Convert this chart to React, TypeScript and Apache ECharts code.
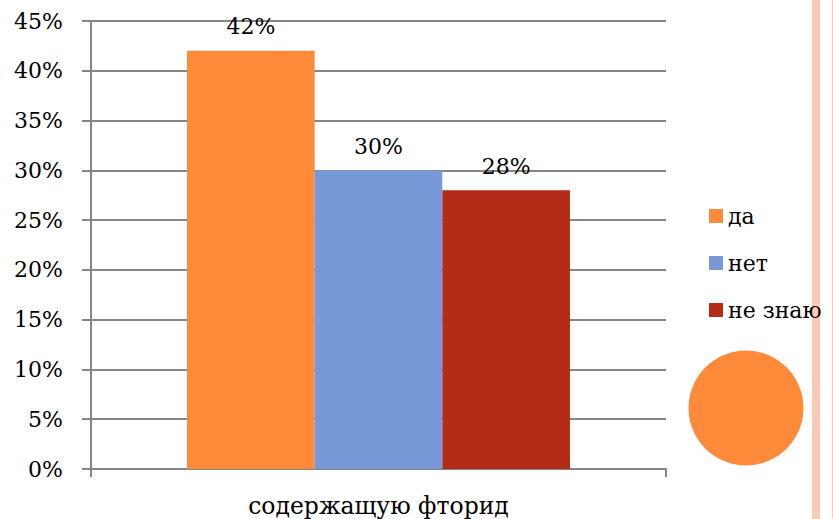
import React, { useEffect, useRef } from "react";
import * as echarts from "echarts";

const categories = ["содержащую фторид"];
const seriesNames = ["да", "нет", "не знаю"];
const daValues = [42];
const netValues = [30];
const neZnayuValues = [28];
const seriesColors = ["#FF8A3A", "#7799D8", "#B22C17"];
const yTicks = { min: 0, max: 45, interval: 5 };

const FONT = "DejaVu Serif";
const FS = 22;

export default function App() {
  const ref = useRef<HTMLDivElement>(null);
  useEffect(() => {
    if (!ref.current) return;
    const chart = echarts.init(ref.current, null, { renderer: "svg" });
    const values = [daValues, netValues, neZnayuValues];
    chart.setOption({
      animation: false,
      backgroundColor: "#ffffff",
      textStyle: { fontFamily: FONT },
      grid: {
        left: 91,
        right: 167,
        top: 21,
        bottom: 50,
        containLabel: false,
        outerBoundsMode: "none",
      },
      legend: {
        orient: "vertical",
        left: 709,
        top: 205,
        padding: 0,
        itemWidth: 14,
        itemHeight: 14,
        itemGap: 25,
        icon: "rect",
        data: seriesNames,
        textStyle: { fontFamily: FONT, fontSize: FS, color: "#000" },
      },
      xAxis: {
        type: "category",
        data: categories,
        axisLine: { lineStyle: { color: "#868686", width: 2 } },
        axisTick: { show: true, length: 8, lineStyle: { color: "#868686", width: 2 } },
        axisLabel: { fontFamily: FONT, fontSize: 23.5, color: "#000", margin: 25 },
      },
      yAxis: {
        type: "value",
        min: yTicks.min,
        max: yTicks.max,
        interval: yTicks.interval,
        axisLine: { show: true, lineStyle: { color: "#868686", width: 2 } },
        axisTick: { show: true, length: 9, lineStyle: { color: "#868686", width: 2 } },
        splitLine: { show: true, lineStyle: { color: "#868686", width: 2 } },
        axisLabel: {
          fontFamily: FONT,
          fontSize: FS,
          color: "#000",
          margin: 28,
          formatter: "{value}%",
        },
      },
      series: seriesNames.map((name, i) => ({
        name,
        type: "bar",
        data: values[i],
        barGap: "0%",
        barCategoryGap: "33.4%",
        itemStyle: { color: seriesColors[i] },
        label: {
          show: true,
          position: "top",
          distance: 13,
          formatter: "{c}%",
          fontFamily: FONT,
          fontSize: FS,
          color: "#000",
        },
      })),
      graphic: [
        {
          type: "circle",
          shape: { cx: 746, cy: 408, r: 57.5 },
          style: { fill: "#FF8A3A" },
        },
        {
          type: "rect",
          shape: { x: 812, y: 0, width: 8, height: 519 },
          style: { fill: "#FFC8B4" },
        },
        {
          type: "rect",
          shape: { x: 832, y: 0, width: 1, height: 519 },
          style: { fill: "#FFC8B4" },
        },
      ],
    });
    return () => chart.dispose();
  }, []);
  return (
    <div
      ref={ref}
      style={{ position: "fixed", left: 0, top: 0, width: 833, height: 519 }}
    />
  );
}
